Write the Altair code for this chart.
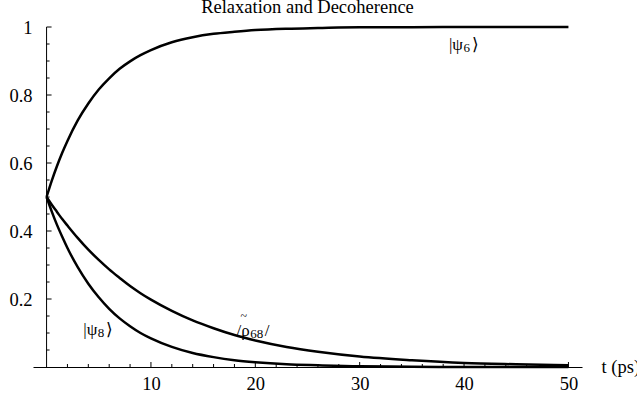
import altair as alt
import pandas as pd

# --- data ---
t_vals = [0, 0.5, 1, 1.5, 2, 3, 4, 5, 6, 7, 8, 9, 10, 12, 14, 16, 18, 20, 23, 26, 30, 35, 40, 45, 50]
psi6 = [0.5, 0.548, 0.591, 0.630, 0.665, 0.726, 0.775, 0.816, 0.849, 0.877, 0.899, 0.917, 0.932,
        0.955, 0.970, 0.980, 0.986, 0.991, 0.995, 0.997, 0.999, 0.999, 1.0, 1.0, 1.0]
psi8 = [0.5, 0.457, 0.418, 0.383, 0.350, 0.293, 0.245, 0.205, 0.171, 0.143, 0.120, 0.100, 0.084,
        0.059, 0.041, 0.029, 0.020, 0.014, 0.008, 0.005, 0.002, 0.001, 0.0, 0.0, 0.0]
rho68 = [0.5, 0.477, 0.456, 0.435, 0.416, 0.379, 0.345, 0.315, 0.287, 0.262, 0.238, 0.217, 0.198,
         0.165, 0.137, 0.114, 0.094, 0.078, 0.059, 0.045, 0.031, 0.020, 0.012, 0.008, 0.005]

x_major = [10, 20, 30, 40, 50]
x_minor = [2, 4, 6, 8, 12, 14, 16, 18, 22, 24, 26, 28, 32, 34, 36, 38, 42, 44, 46, 48]
y_major = [0.2, 0.4, 0.6, 0.8, 1.0]
y_minor = [0.05, 0.1, 0.15, 0.25, 0.3, 0.35, 0.45, 0.5, 0.55, 0.65, 0.7, 0.75, 0.85, 0.9, 0.95]

# curve labels: main part, subscript, closing glyph, accent; anchored where main meets subscript
label_main = ["|ψ", "/ρ", "|ψ"]
label_sub = ["6", "68", "8"]
label_end = ["⟩", "/", "⟩"]
label_accent = ["", "~", ""]
label_t = [39.9, 19.46, 4.86]
label_v = [0.932, 0.090, 0.094]

title_text = "Relaxation and Decoherence"
title_t = 25.0
title_v = 1.0
x_title = "t (ps)"

# --- tables ---
rows = []
for name, vals in [("psi6", psi6), ("psi8", psi8), ("rho68", rho68)]:
    for t, v in zip(t_vals, vals):
        rows.append({"t": t, "v": v, "series": name})
df = pd.DataFrame(rows)

FONT = "Liberation Serif, Times New Roman, serif"
FS = 18.5
PX = 52.6 / 549.0  # data units per pixel along x

xs = alt.Scale(domain=[-1.3, 51.3], nice=False, zero=False)
ys = alt.Scale(domain=[0, 1], nice=False, zero=False)

x_axis = alt.Axis(values=x_major, format="d", ticks=False, tickSize=0, domain=True,
                  domainColor="black", domainWidth=1, grid=False, labelFont=FONT,
                  labelFontSize=FS, labelPadding=7, labelColor="black", title=x_title,
                  titleFont=FONT, titleFontSize=FS, titleFontWeight="normal",
                  titleColor="black", titleX=568, titleY=-1, titleAlign="left",
                  titleBaseline="middle", labelFlush=False)
y_axis = alt.Axis(values=y_major, format="~g", ticks=False, tickSize=0, domain=False,
                  grid=False, labelFont=FONT, labelFontSize=FS, labelPadding=1,
                  labelColor="black", title=None, labelFlush=False)

X = lambda f: alt.X(f, scale=xs, axis=x_axis)
Y = lambda f: alt.Y(f, scale=ys, axis=y_axis)

lines = alt.Chart(df).mark_line(color="black", strokeWidth=2.5, interpolate="monotone").encode(
    x=X("t:Q"), y=Y("v:Q"), detail="series:N"
)

yline = alt.Chart(pd.DataFrame({"z": [0], "lo": [0], "hi": [1]})).mark_rule(
    color="black", strokeWidth=1).encode(x=X("z:Q"), y=Y("lo:Q"), y2="hi:Q")

def xticks(vals, length):
    d = pd.DataFrame({"p": vals, "z": [0] * len(vals)})
    return alt.Chart(d).mark_rule(color="black", strokeWidth=1, y2Offset=-length).encode(
        x=X("p:Q"), y=Y("z:Q"), y2="z:Q")

def yticks(vals, length):
    d = pd.DataFrame({"p": vals, "z": [0] * len(vals)})
    return alt.Chart(d).mark_rule(color="black", strokeWidth=1, x2Offset=length).encode(
        x=X("z:Q"), x2="z:Q", y=Y("p:Q"))

lab_df = pd.DataFrame({"lt": label_t, "lv": label_v, "main": label_main,
                       "sub": label_sub, "end": label_end, "acc": label_accent})

main_text = alt.Chart(lab_df).mark_text(font=FONT, fontSize=17, color="black",
                                        baseline="alphabetic", align="right").encode(
    x=X("lt:Q"), y=Y("lv:Q"), text="main:N")
sub_text = alt.Chart(lab_df).mark_text(font=FONT, fontSize=13, color="black",
                                       baseline="alphabetic", align="left", dx=0.5, dy=2).encode(
    x=X("lt:Q"), y=Y("lv:Q"), text="sub:N")
end_text = alt.Chart(lab_df).transform_calculate(
    et=f"datum.lt + (length(datum.sub) * 6.5 + 2) * {PX}"
).mark_text(font=FONT, fontSize=17, color="black", baseline="alphabetic", align="left").encode(
    x=X("et:Q"), y=Y("lv:Q"), text="end:N")
acc_text = alt.Chart(lab_df).transform_filter("datum.acc != ''").mark_text(
    font=FONT, fontSize=12, color="black", baseline="middle", align="center", dx=-6, dy=-20
).encode(x=X("lt:Q"), y=Y("lv:Q"), text="acc:N")

title_mark = alt.Chart(pd.DataFrame({"tt": [title_t], "tv": [title_v], "txt": [title_text]})).mark_text(
    font=FONT, fontSize=FS, color="black", baseline="alphabetic", align="center", dy=-14
).encode(x=X("tt:Q"), y=Y("tv:Q"), text="txt:N")

chart = alt.layer(
    yline, xticks(x_major, 5), xticks(x_minor, 3), yticks(y_major, 5), yticks(y_minor, 3),
    lines, main_text, sub_text, end_text, acc_text, title_mark
).properties(
    width=549, height=340,
    autosize=alt.AutoSizeParams(type="none"),
    padding={"left": 33, "top": 27, "right": 55, "bottom": 31},
    background="white",
).configure_view(stroke=None)

chart.save("out.html", embed_options={"renderer": "svg", "actions": False})
